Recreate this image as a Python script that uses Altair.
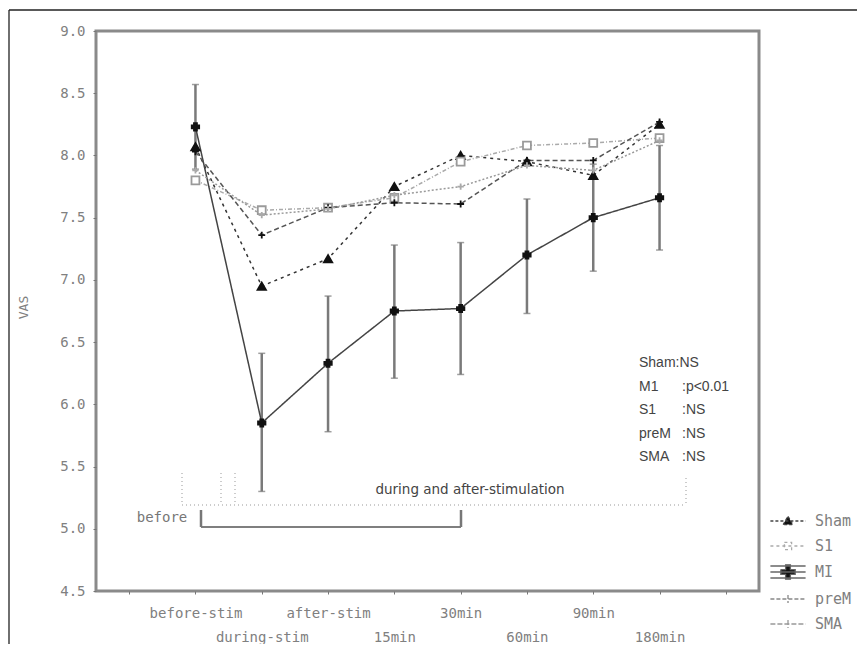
import json
import altair as alt
import pandas as pd

# ---------------- data ----------------
categories = ["before-stim", "during-stim", "after-stim", "15min", "30min", "60min", "90min", "180min"]
series_names = ["Sham", "S1", "M1", "preM", "SMA"]
legend_names = ["Sham", "S1", "MI", "preM", "SMA"]

sham = [8.07, 6.95, 7.17, 7.75, 8.00, 7.95, 7.84, 8.25]
s1 = [7.80, 7.56, 7.58, 7.66, 7.95, 8.08, 8.10, 8.14]
m1 = [8.23, 5.85, 6.33, 6.75, 6.77, 7.20, 7.50, 7.66]
prem = [8.03, 7.36, 7.58, 7.62, 7.61, 7.96, 7.96, 8.27]
sma = [7.88, 7.52, 7.57, 7.68, 7.75, 7.92, 7.88, 8.12]
m1_low = [7.89, 5.30, 5.78, 6.21, 6.24, 6.73, 7.07, 7.24]
m1_high = [8.57, 6.41, 6.87, 7.28, 7.30, 7.65, 7.93, 8.08]

y_ticks = [4.5, 5.0, 5.5, 6.0, 6.5, 7.0, 7.5, 8.0, 8.5, 9.0]
x_ticks = list(range(-1, 9))

stat_groups = ["Sham:NS", "M1", "S1", "preM", "SMA"]
stat_values = ["", ":p<0.01", ":NS", ":NS", ":NS"]
label_before = "before"
label_during = "during and after-stimulation"
y_title = "VAS"

rows = []
for name, vals in zip(series_names, [sham, s1, m1, prem, sma]):
    for i, v in enumerate(vals):
        rows.append({"idx": i, "category": categories[i], "series": name, "value": v})
df = pd.DataFrame(rows)
err = pd.DataFrame({"idx": list(range(len(categories))), "low": m1_low, "high": m1_high})
leg_df = pd.DataFrame({"Legend": legend_names})
one = pd.DataFrame({"k": [0]})

# ---------------- styles ----------------
MONO = "DejaVu Sans Mono"
line_colors = ["#333333", "#aaaaaa", "#444444", "#555555", "#9a9a9a"]
line_dash = [[3, 4], [4, 2, 1, 2], [1, 0], [5, 3], [2, 2]]
line_widths = [1.5, 1.5, 2.2, 1.5, 1.5]
pt_shapes = ["triangle-up", "square", "cross", "M-1,0H1M0,-1V1", "M-1,0H1M0,-1V1"]
pt_fills = ["#111111", "#ffffff", "#111111", "#111111", "#bbbbbb"]
pt_strokes = ["#111111", "#9a9a9a", "#111111", "#111111", "#aaaaaa"]
pt_sizes = [70, 40, 140, 110, 50]

leg_paths = [
    "M-2.2,0H2.2M-0.6,0.45L0,-0.6L0.6,0.45Z",
    "M-2.2,0H2.2M-0.45,-0.45H0.45V0.45H-0.45Z",
    "M-2.2,-0.75H2.2M-2.2,0H2.2M-2.2,0.75H2.2M-0.3,-0.9H0.3V-0.3H0.9V0.3H0.3V0.9H-0.3V0.3H-0.9V-0.3H-0.3Z",
    "M-2.2,0H2.2M0,-0.5V0.5",
    "M-2.2,0H2.2M0,-0.5V0.5",
]
leg_fills = ["#111111", "#ffffff", "#111111", "#888888", "#aaaaaa"]
leg_strokes = ["#444444", "#aaaaaa", "#666666", "#888888", "#999999"]
leg_dash = [[3, 2], [3, 3], [1, 0], [4, 2], [5, 2]]

arr = json.dumps(categories)
label_expr = (
    f"datum.value < 0 || datum.value > 7 ? '' : "
    f"(datum.value % 2 == 0 ? {arr}[datum.value] : ['', {arr}[datum.value]])"
)

x_axis = alt.Axis(
    values=x_ticks, labelExpr=label_expr, labelFont=MONO, labelFontSize=14,
    labelColor="#808080", labelPadding=12, labelLineHeight=24, tickSize=3,
    tickColor="#777777", domain=False, grid=False, labelOverlap=False,
    labelFlush=False, labelBound=False, title=None,
)
y_axis = alt.Axis(
    values=y_ticks, format=".1f", labelFont=MONO, labelFontSize=14,
    labelColor="#808080", labelPadding=8, tickSize=3, tickColor="#777777",
    domain=False, grid=False, title=y_title, titleFont=MONO, titleFontSize=13,
    titleFontWeight="normal", titleColor="#808080", titleX=-66, titleY=276,
    titleAngle=270,
)
xs = alt.Scale(domain=[-1.5, 8.5], nice=False, zero=False)
ys = alt.Scale(domain=[4.5, 9.0], nice=False, zero=False)


def X():
    return alt.X("idx:Q", scale=xs, axis=x_axis)


def Y(field):
    return alt.Y(f"{field}:Q", scale=ys, axis=y_axis)


# ---------------- data layers ----------------
err_rule = alt.Chart(err).mark_rule(color="#7a7a7a", strokeWidth=2.5).encode(
    x=X(), y=Y("low"), y2="high:Q"
)
cap_low = alt.Chart(err).mark_tick(orient="horizontal", color="#777777", size=7, thickness=1.5).encode(
    x=X(), y=Y("low")
)
cap_high = alt.Chart(err).mark_tick(orient="horizontal", color="#777777", size=7, thickness=1.5).encode(
    x=X(), y=Y("high")
)

lines = alt.Chart(df).mark_line().encode(
    x=X(), y=Y("value"),
    color=alt.Color("series:N", scale=alt.Scale(domain=series_names, range=line_colors), legend=None),
    strokeDash=alt.StrokeDash("series:N", scale=alt.Scale(domain=series_names, range=line_dash), legend=None),
    strokeWidth=alt.StrokeWidth("series:N", scale=alt.Scale(domain=series_names, range=line_widths), legend=None),
)

points = alt.Chart(df).mark_point(opacity=1, strokeWidth=1.8).encode(
    x=X(), y=Y("value"),
    shape=alt.Shape("series:N", scale=alt.Scale(domain=series_names, range=pt_shapes), legend=None),
    fill=alt.Fill("series:N", scale=alt.Scale(domain=series_names, range=pt_fills), legend=None),
    stroke=alt.Stroke("series:N", scale=alt.Scale(domain=series_names, range=pt_strokes), legend=None),
    size=alt.Size("series:N", scale=alt.Scale(domain=series_names, range=pt_sizes), legend=None),
)


def leg():
    return alt.Legend(
        title=None, orient="none", legendX=683, legendY=481, symbolSize=256,
        labelOffset=18, rowPadding=8, labelFont=MONO, labelFontSize=15,
        labelColor="#808080", padding=0, symbolStrokeWidth=1.3,
    )


legend_layer = alt.Chart(leg_df).transform_filter("false").mark_point(opacity=1, strokeWidth=1.3).encode(
    shape=alt.Shape("Legend:N", scale=alt.Scale(domain=legend_names, range=leg_paths), legend=leg()),
    fill=alt.Fill("Legend:N", scale=alt.Scale(domain=legend_names, range=leg_fills), legend=leg()),
    stroke=alt.Stroke("Legend:N", scale=alt.Scale(domain=legend_names, range=leg_strokes), legend=leg()),
    strokeDash=alt.StrokeDash("Legend:N", scale=alt.Scale(domain=legend_names, range=leg_dash), legend=leg()),
)


# ---------------- decorations ----------------
def rule(x1, x2, y1, y2, color="#999999", width=1.0, dash=None):
    kw = dict(color=color, strokeWidth=width)
    if dash is not None:
        kw["strokeDash"] = dash
    return alt.Chart(one).mark_rule(**kw).encode(
        x=alt.value(x1), x2=alt.value(x2), y=alt.value(y1), y2=alt.value(y2)
    )


decor = [
    # outer frame
    rule(-87, -87, -21, 613, color="#222222", width=1.3),
    rule(-87, 761, -21, -21, color="#222222", width=1.3),
    # dotted guide lines
    rule(86, 590, 474, 474, dash=[1, 3]),
    rule(86, 86, 442, 474, dash=[1, 3]),
    rule(125, 125, 442, 474, dash=[1, 3]),
    rule(139, 139, 442, 474, dash=[1, 3]),
    rule(590, 590, 447, 474, dash=[1, 3]),
    # solid bracket
    rule(105, 365, 496, 496, color="#555555", width=1.5),
    rule(105, 105, 479, 496, color="#777777", width=2.5),
    rule(365, 365, 479, 496, color="#777777", width=2.5),
]

texts = [
    alt.Chart(one).mark_text(align="center", baseline="middle", font=MONO, fontSize=14, color="#777777").encode(
        x=alt.value(66), y=alt.value(487), text=alt.value(label_before)
    ),
    alt.Chart(one).mark_text(align="center", baseline="middle", font="DejaVu Sans", fontSize=13.5, color="#444444").encode(
        x=alt.value(374), y=alt.value(459), text=alt.value(label_during)
    ),
    alt.Chart(one).mark_text(align="left", baseline="top", font="Liberation Sans", fontSize=14, lineHeight=23.5, color="#444444").encode(
        x=alt.value(543), y=alt.value(325), text=alt.value(stat_groups)
    ),
    alt.Chart(one).mark_text(align="left", baseline="top", font="Liberation Sans", fontSize=14, lineHeight=23.5, color="#444444").encode(
        x=alt.value(586), y=alt.value(325), text=alt.value(stat_values)
    ),
]

chart = alt.layer(
    *decor, err_rule, cap_low, cap_high, lines, points, legend_layer, *texts
).resolve_scale(
    shape="independent", fill="independent", stroke="independent", strokeDash="independent"
).properties(
    width=663, height=560,
    background="white",
    autosize=alt.AutoSizeParams(type="none"),
    padding={"left": 88, "top": 23, "right": 98, "bottom": 53},
).configure_view(
    stroke="#8a8a8a", strokeWidth=3
)

chart.save("out.html", embed_options={"renderer": "svg", "actions": False})
